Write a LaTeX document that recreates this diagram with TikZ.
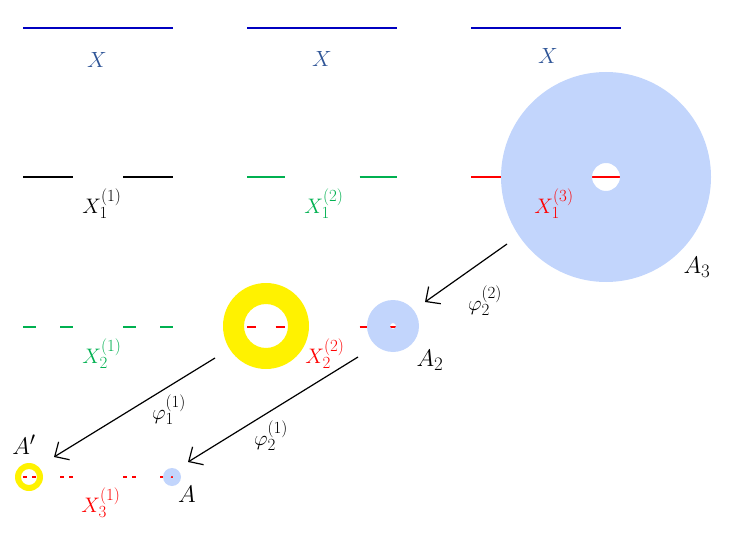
\RequirePackage{fix-cm}
\documentclass[tikz,border=0pt]{standalone}
\usetikzlibrary{arrows.meta}
\DeclareMathSizes{21}{21}{17}{12}
\DeclareMathSizes{22}{22}{17}{12}
\DeclareMathSizes{24}{24}{19}{14}
\definecolor{xblue}{RGB}{0,0,192}
\definecolor{xlab}{RGB}{47,85,151}
\definecolor{cgreen}{RGB}{0,176,80}
\definecolor{cred}{RGB}{255,0,0}
\definecolor{cdisk}{RGB}{194,213,252}
\definecolor{cyel}{RGB}{255,242,0}
\begin{document}
\begin{tikzpicture}[x=1pt,y=-1pt,
  seg/.style={line width=1.3pt},
  thinseg/.style={line width=1.1pt},
  lab/.style={inner sep=0pt, font=\fontsize{21}{21}\selectfont},
  toplab/.style={inner sep=0pt, text=xlab, font=\fontsize{22}{22}\selectfont},
  biglab/.style={inner sep=0pt, font=\fontsize{24}{24}\selectfont},
  maparrow/.style={line width=1.2pt, -{Straight Barb[length=11pt,width=21pt,line width=1.2pt]}},
  disk/.style={fill=cdisk, even odd rule},
  ring/.style={fill=cyel, even odd rule}]
\useasboundingbox (0,0) rectangle (735,534);

% top row: X
\draw[xblue, line width=1.8pt] (23,28) -- (173,28);
\draw[xblue, line width=1.8pt] (247,28) -- (397,28);
\draw[xblue, line width=1.8pt] (471,28) -- (621,28);
\node[toplab] (x1) at (97,60) {$X$};
\node[toplab] (x2) at (322,59) {$X$};
\node[toplab] (x3) at (548,56) {$X$};

% row 2
\draw[black, seg] (23,177) -- (73,177) (123,177) -- (173,177);
\draw[cgreen, seg] (247,177) -- (284.5,177) (359.5,177) -- (397,177);
\draw[cred, seg] (471,177) -- (521,177) (571,177) -- (621,177);
\path[disk] (606,177) circle[radius=105] (606,177) circle[radius=14];
\node[lab] (l11) at (102,204) {$X_1^{(1)}$};
\node[lab, text=cgreen] (l12) at (324,204) {$X_1^{(2)}$};
\node[lab, text=cred] (l13) at (554,204) {$X_1^{(3)}$};
\node[biglab] (a3) at (697,267) {$A_3$};

% row 3
\draw[cgreen, seg] (23,327) -- (36,327) (60,327) -- (73,327) (123,327) -- (136,327) (160,327) -- (173,327);
\draw[cred, seg] (247,327) -- (256,327) (275.5,327) -- (284.5,327) (359.5,327) -- (368.5,327) (388,327) -- (397,327);
\path[ring] (266,326) circle[radius=43] (266,326) circle[radius=22];
\path[disk] (393,326) circle[radius=26] (393,326) circle[radius=3];
\node[lab, text=cgreen] (l21) at (102,354) {$X_2^{(1)}$};
\node[lab, text=cred] (l22) at (325,354) {$X_2^{(2)}$};
\node[biglab] (a2) at (430,360) {$A_2$};

% row 4
\draw[cred, thinseg] (23,477) -- (27,477) (32,477) -- (36,477) (60,477) -- (64,477) (69,477) -- (73,477)
  (123,477) -- (127,477) (132,477) -- (136,477) (160,477) -- (164,477) (169,477) -- (173,477);
\path[ring] (29,477) circle[radius=14] (29,477) circle[radius=8];
\path[disk] (172,477) circle[radius=9] (172,477) circle[radius=1.5];
\node[lab, text=cred] (l31) at (101,503) {$X_3^{(1)}$};
\node[biglab] (ap) at (24,445) {$A'$};
\node[biglab] (a) at (187,494) {$A$};

% maps
\coordinate (s22) at (507,244);
\coordinate (e22) at (425,302);
\coordinate (s11) at (215,358);
\coordinate (e11) at (54,457);
\coordinate (s21) at (358,357);
\coordinate (e21) at (188,462);
\draw[maparrow] (s22) -- (e22);
\draw[maparrow] (s11) -- (e11);
\draw[maparrow] (s21) -- (e21);
\node[lab] (p22) at (485,301) {$\varphi_2^{(2)}$};
\node[lab] (p11) at (169,410) {$\varphi_1^{(1)}$};
\node[lab] (p21) at (271,436) {$\varphi_2^{(1)}$};
\end{tikzpicture}
\end{document}
